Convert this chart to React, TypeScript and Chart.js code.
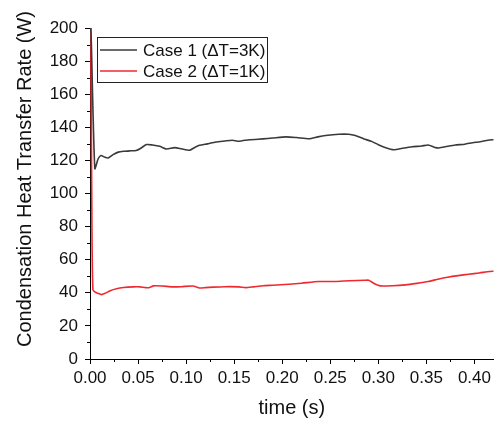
import React, { useEffect, useRef } from "react";
import { Chart, registerables } from "chart.js";

Chart.register(...registerables);

const case1Time = [0, 0.0012, 0.005, 0.0085, 0.0115, 0.015, 0.019, 0.024, 0.0294, 0.035, 0.042, 0.048, 0.052, 0.0588, 0.065, 0.0725, 0.0795, 0.088, 0.095, 0.1036, 0.108, 0.114, 0.122, 0.131, 0.14, 0.148, 0.155, 0.166, 0.18, 0.19, 0.204, 0.215, 0.228, 0.237, 0.245, 0.259, 0.269, 0.276, 0.285, 0.293, 0.3, 0.307, 0.316, 0.325, 0.335, 0.345, 0.352, 0.358, 0.363, 0.372, 0.38, 0.39, 0.398, 0.406, 0.414, 0.42];
const case1Values = [212, 195, 115, 121, 123, 122, 121.5, 123.5, 125, 125.5, 125.8, 126, 127, 129.6, 129.3, 128.5, 126.9, 127.7, 127, 126.1, 127.5, 129.1, 130, 131.1, 131.7, 132.2, 131.6, 132.5, 133, 133.5, 134.2, 133.8, 133.1, 134.2, 135, 135.8, 135.8, 135, 133, 131.5, 129.5, 127.8, 126.4, 127.3, 128.2, 128.7, 129.3, 128, 127.5, 128.5, 129.3, 129.8, 130.7, 131.3, 132.2, 132.5];

const case2Time = [0, 0.0008, 0.002, 0.003, 0.005, 0.008, 0.012, 0.016, 0.021, 0.0276, 0.035, 0.045, 0.052, 0.058, 0.062, 0.066, 0.075, 0.086, 0.095, 0.107, 0.114, 0.12, 0.128, 0.14, 0.155, 0.162, 0.17, 0.18, 0.19, 0.207, 0.22, 0.238, 0.255, 0.27, 0.286, 0.29, 0.296, 0.302, 0.315, 0.328, 0.34, 0.352, 0.362, 0.372, 0.383, 0.394, 0.405, 0.416, 0.42];
const case2Values = [212, 200, 80, 42, 40.5, 39.8, 38.9, 39.8, 41.3, 42.5, 43.2, 43.6, 43.6, 43.1, 43.2, 44.2, 44.1, 43.6, 43.7, 44.1, 42.9, 43.1, 43.4, 43.7, 43.6, 43.1, 43.6, 44.3, 44.6, 45.2, 45.8, 46.8, 46.8, 47.3, 47.6, 47.6, 45.5, 44.2, 44.3, 44.8, 45.7, 46.8, 48.2, 49.4, 50.4, 51.2, 52, 52.9, 53];

const seriesLabels = ["Case 1 (ΔT=3K)", "Case 2 (ΔT=1K)"];
const seriesColors = ["#3a3a3a", "#ee2a30"];

const xTitle = "time (s)";
const yTitle = "Condensation Heat Transfer Rate (W)";
const xMin = 0, xMax = 0.42, xStep = 0.05;
const yMin = 0, yMax = 200, yStep = 20;

const FONT = "'Liberation Sans', Arial, sans-serif";

const minorTicks = {
  id: "minorTicks",
  afterDraw(chart: any) {
    const ctx = chart.ctx;
    const x = chart.scales.x;
    const y = chart.scales.y;
    ctx.save();
    ctx.strokeStyle = "#000";
    ctx.lineWidth = 1;
    ctx.beginPath();
    for (let v = xMin + xStep / 2; v <= xMax + 1e-9; v += xStep) {
      const px = Math.round(x.getPixelForValue(v)) + 0.5;
      ctx.moveTo(px, chart.chartArea.bottom);
      ctx.lineTo(px, chart.chartArea.bottom + 3);
    }
    for (let v = yMin + yStep / 2; v <= yMax + 1e-9; v += yStep) {
      const py = Math.round(y.getPixelForValue(v)) + 0.5;
      ctx.moveTo(chart.chartArea.left, py);
      ctx.lineTo(chart.chartArea.left - 3, py);
    }
    ctx.stroke();
    ctx.restore();
  },
};

const yAxisTitle = {
  id: "yAxisTitle",
  afterDraw(chart: any) {
    const ctx = chart.ctx;
    ctx.save();
    ctx.translate(25, 179);
    ctx.rotate(-Math.PI / 2);
    ctx.font = "20px " + FONT;
    ctx.fillStyle = "#111";
    ctx.textAlign = "center";
    ctx.textBaseline = "middle";
    ctx.fillText(yTitle, 0, 0);
    ctx.restore();
  },
};

const boxLegend = {
  id: "boxLegend",
  afterDraw(chart: any) {
    const ctx = chart.ctx;
    const left = 97, top = 37, w = 170, h = 45;
    ctx.save();
    ctx.fillStyle = "#fff";
    ctx.fillRect(left, top, w, h);
    ctx.strokeStyle = "#222";
    ctx.lineWidth = 1;
    ctx.strokeRect(left + 0.5, top + 0.5, w, h);
    ctx.font = "17px " + FONT;
    ctx.textBaseline = "middle";
    chart.data.datasets.forEach((ds: any, i: number) => {
      const cy = top + 13 + i * 21;
      ctx.strokeStyle = ds.borderColor;
      ctx.lineWidth = 1.5;
      ctx.beginPath();
      ctx.moveTo(left + 3, cy);
      ctx.lineTo(left + 40, cy);
      ctx.stroke();
      ctx.fillStyle = "#111";
      ctx.fillText(ds.label, left + 46, cy + 1);
    });
    ctx.restore();
  },
};

export default function App() {
  const ref = useRef<HTMLCanvasElement>(null);
  useEffect(() => {
    const toPts = (t: number[], v: number[]) => t.map((tt, i) => ({ x: tt, y: v[i] }));
    const chart = new Chart(ref.current!, {
      type: "line",
      data: {
        datasets: [
          { label: seriesLabels[0], data: toPts(case1Time, case1Values), borderColor: seriesColors[0], borderWidth: 1.6, pointRadius: 0, tension: 0.2 },
          { label: seriesLabels[1], data: toPts(case2Time, case2Values), borderColor: seriesColors[1], borderWidth: 1.6, pointRadius: 0, tension: 0.2 },
        ],
      },
      options: {
        animation: false,
        responsive: false,
        layout: { padding: { top: 28, right: 0, left: 0, bottom: 0 } },
        plugins: { legend: { display: false }, tooltip: { enabled: false } },
        scales: {
          x: {
            type: "linear",
            min: xMin,
            max: xMax,
            afterBuildTicks: (s: any) => {
              const t = [];
              for (let v = xMin; v <= xMax + 1e-9; v += xStep) t.push({ value: Math.round(v * 100) / 100 });
              s.ticks = t;
            },
            afterFit: (s: any) => { s.height = 62; },
            ticks: {
              color: "#111",
              font: { size: 17, family: FONT },
              padding: 4,
              maxRotation: 0,
              autoSkip: false,
              callback: (v: any) => Number(v).toFixed(2),
            },
            grid: { drawOnChartArea: false, drawTicks: true, tickLength: 5, color: "#000" },
            border: { display: true, color: "#000", width: 1 },
            title: { display: true, text: xTitle, color: "#111", font: { size: 20, family: FONT }, padding: { top: 1, bottom: 1 } },
          },
          y: {
            type: "linear",
            min: yMin,
            max: yMax,
            afterFit: (s: any) => { s.width = 90; },
            ticks: {
              stepSize: yStep,
              color: "#111",
              font: { size: 17, family: FONT },
              padding: 7,
            },
            grid: { drawOnChartArea: false, drawTicks: true, tickLength: 5, color: "#000" },
            border: { display: true, color: "#000", width: 1 },
            title: { display: false },
          },
        },
      },
      plugins: [minorTicks, boxLegend, yAxisTitle],
    });
    return () => chart.destroy();
  }, []);
  return (
    <div style={{ position: "fixed", left: 0, top: 0, width: 495, height: 421, background: "#fff" }}>
      <canvas ref={ref} width={495} height={421} style={{ width: 495, height: 421 }} />
    </div>
  );
}
